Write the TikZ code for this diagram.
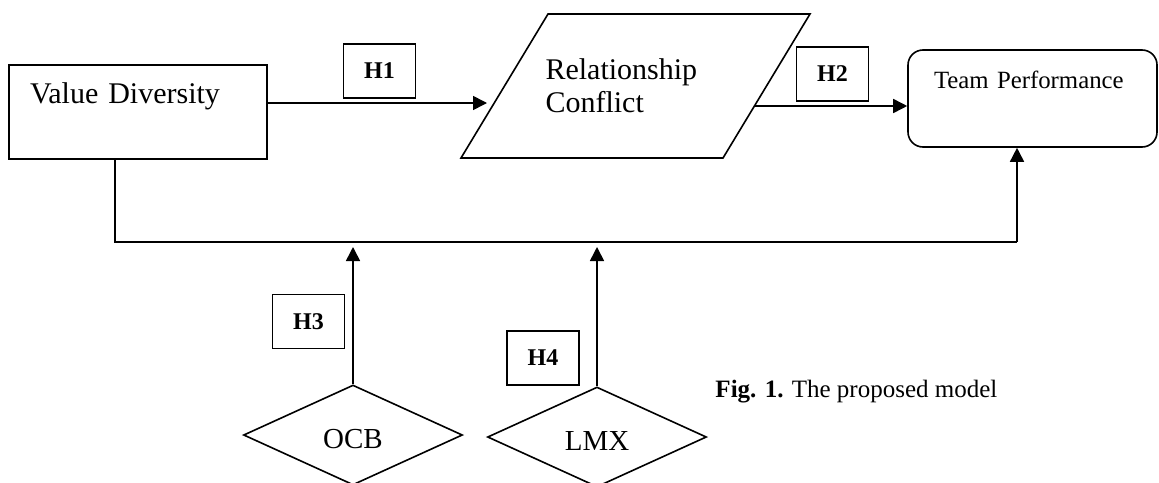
\documentclass[tikz,border=0pt]{standalone}
\usepackage{fontspec}
\setmainfont{Liberation Serif}
\usetikzlibrary{arrows.meta,shapes.geometric}

\begin{document}
\begin{tikzpicture}[x=0.5pt, y=-0.5pt, line width=0.8pt,
	arr/.style={-{Triangle[length=7pt,width=7pt]}},
	hbox/.style={draw, minimum width=36pt, minimum height=27pt, inner sep=0pt, font=\fontsize{12}{14}\selectfont\bfseries},
	choice/.style={draw, diamond, minimum width=109.5pt, minimum height=50pt, inner sep=0pt, text height=13pt, text depth=0pt,
		font=\fontsize{14.5}{16}\selectfont}]
	\useasboundingbox (0,0) rectangle (1159,482);

	\node[draw, inner xsep=10.5pt, inner ysep=0pt, text width=108pt, text height=19pt, text depth=28pt, align=left,
		font=\fontsize{15}{16.5}\selectfont] (vd) at (138,112) {Value Diversity};
	\node[text width=90pt, inner sep=0pt, align=left, font=\fontsize{15}{16.5}\selectfont] (rc) at (635.5,86) {Relationship\\Conflict};
	\draw (rc.center) ++(-174.5,72) -- ++(87,-144) -- ++(262,0) -- ++(-87,144) -- cycle;
	\node[draw, rounded corners=7.5pt, inner xsep=13pt, inner ysep=0pt, text width=98.5pt, text height=19pt, text depth=29.5pt,
		align=left, font=\fontsize{12.4}{14}\selectfont] (tp) at (1032.5,98.5) {Team Performance};

	\node[hbox] (h1) at (379.5,71) {H1};
	\node[hbox] (h2) at (832.5,74) {H2};
	\node[hbox] (h3) at (308.5,321.5) {H3};
	\node[hbox] (h4) at (543,358) {H4};

	\node[choice] (ocb) at (353,435) {OCB};
	\node[choice] (lmx) at (597,437) {LMX};

	\node[anchor=base west, font=\fontsize{12.5}{14}\selectfont] (cap) at (708,397) {\textbf{Fig. 1.} The proposed model};

	\coordinate (rcin) at (487,103);
	\coordinate (rcout) at (754,106);
	\coordinate (vdout) at (115,159);
	\coordinate (modR) at (1017,242);
	\coordinate (modin) at (0,247);

	\draw[arr] (vd.east |- rcin) -- (rcin);
	\draw[arr] (rcout) -- (rcout -| tp.west);
	\draw (vdout) |- (modR);
	\draw[arr] (modR) -- (modR |- tp.south);
	\draw[arr] (ocb.north) -- (ocb.north |- modin);
	\draw[arr] (lmx.north) -- (lmx.north |- modin);
\end{tikzpicture}
\end{document}
